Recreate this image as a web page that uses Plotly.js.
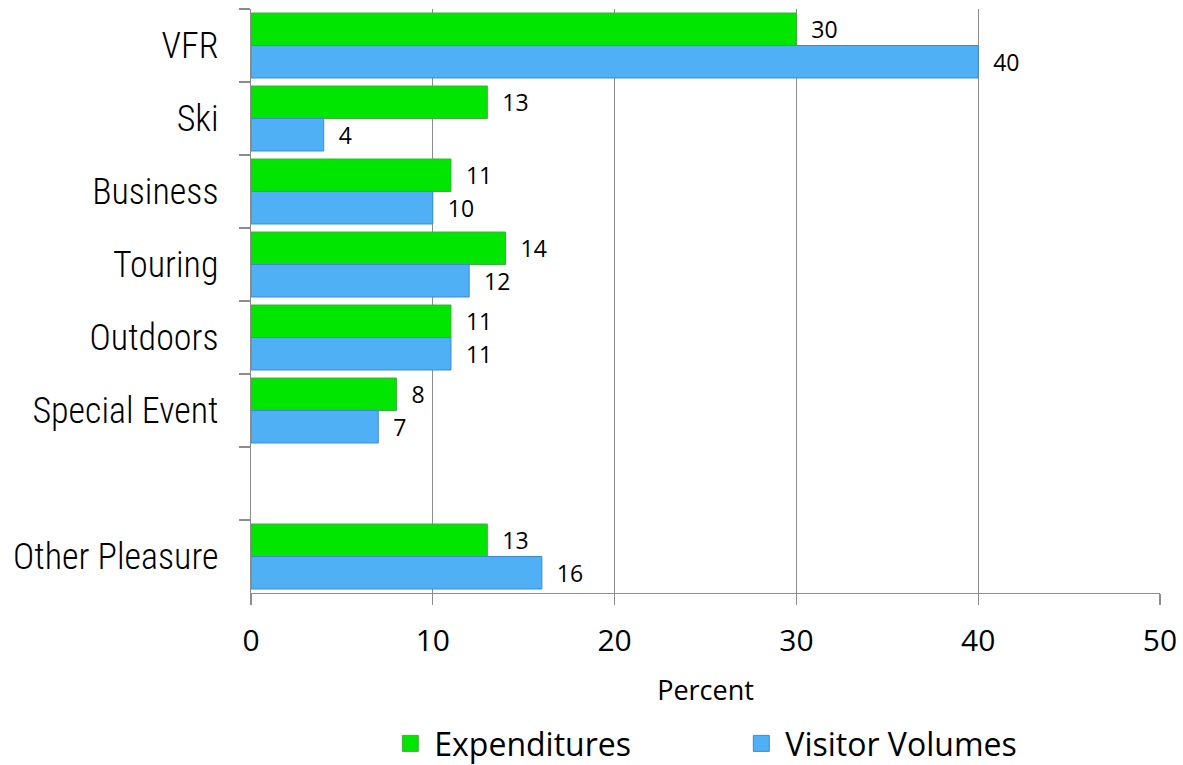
<!DOCTYPE html>
<html>
<head>
<meta charset="utf-8">
<script src="https://cdn.plot.ly/plotly-3.0.1.min.js"></script>
<style>html,body{margin:0;padding:0;background:#fff;}#chart{width:1183px;height:765px;}</style>
</head>
<body>
<div id="chart"></div>
<script>
const categories = ["VFR", "Ski", "Business", "Touring", "Outdoors", "Special Event", " ", "Other Pleasure"];
const barCategories = ["VFR", "Ski", "Business", "Touring", "Outdoors", "Special Event", "Other Pleasure"];
const expenditures = [30, 13, 11, 14, 11, 8, 13];
const visitorVolumes = [40, 4, 10, 12, 11, 7, 16];
const seriesNames = ["Expenditures", "Visitor Volumes"];
const xTicks = [0, 10, 20, 30, 40, 50];

const green = "#00e600";
const blue = "#50b0f5";
const nb = "\u00a0\u00a0";

const labelFont = {family: "Open Sans, Lato, sans-serif", size: 23, color: "#000"};

const traces = [
  {
    type: "bar", orientation: "h", name: seriesNames[0],
    x: expenditures, y: barCategories,
    marker: {color: green, line: {color: "#3fae3f", width: 1}},
    text: expenditures.map(v => nb + v), textposition: "outside",
    textfont: labelFont, cliponaxis: false, showlegend: false, hoverinfo: "x+y"
  },
  {
    type: "bar", orientation: "h", name: seriesNames[1],
    x: visitorVolumes, y: barCategories,
    marker: {color: blue, line: {color: "#3a8ccc", width: 1}},
    text: visitorVolumes.map(v => nb + v), textposition: "outside",
    textfont: labelFont, cliponaxis: false, showlegend: false, hoverinfo: "x+y"
  },
  {
    type: "scatter", mode: "markers", name: seriesNames[0],
    x: [null], y: [null],
    marker: {symbol: "square", size: 22, color: green, line: {color: "#3fae3f", width: 1}},
    showlegend: true, hoverinfo: "skip"
  },
  {
    type: "scatter", mode: "markers", name: seriesNames[1],
    x: [null], y: [null],
    marker: {symbol: "square", size: 22, color: blue, line: {color: "#3a8ccc", width: 1}},
    showlegend: true, hoverinfo: "skip"
  }
];

const layout = {
  width: 1183, height: 765,
  margin: {l: 251, r: 23, t: 9, b: 172},
  paper_bgcolor: "#fff", plot_bgcolor: "#fff",
  barmode: "group", bargap: 0.11, bargroupgap: 0,
  showlegend: true,
  xaxis: {
    range: [0, 50], tickvals: xTicks, ticktext: xTicks.map(String),
    showgrid: true, gridcolor: "#8c8c8c", gridwidth: 1.3,
    showline: true, linecolor: "#8c8c8c", linewidth: 1.3,
    ticks: "outside", ticklen: 11, tickcolor: "#8c8c8c", tickwidth: 1.3,
    ticklabelstandoff: 10,
    zeroline: false,
    tickfont: {family: "Open Sans, Lato, sans-serif", size: 30, color: "#000"},
    title: {text: "Percent", font: {family: "Open Sans, Lato, sans-serif", size: 27, color: "#000"}, standoff: 21}
  },
  yaxis: {
    type: "category", categoryorder: "array", categoryarray: categories,
    autorange: "reversed",
    tickson: "boundaries",
    showgrid: false, zeroline: false,
    showline: true, linecolor: "#8c8c8c", linewidth: 1.3,
    ticks: "outside", ticklen: 11, tickcolor: "#8c8c8c", tickwidth: 1.3,
    ticklabelstandoff: 24,
    tickfont: {family: "Roboto Condensed, Liberation Sans Narrow, sans-serif", size: 36, weight: 300, color: "#000"}
  },
  legend: {
    orientation: "h", x: 0.535, xanchor: "center",
    yref: "container", y: 0.028, yanchor: "middle",
    font: {family: "Open Sans, Lato, sans-serif", size: 32, color: "#000"},
    entrywidth: 298, itemwidth: 38, bgcolor: "rgba(0,0,0,0)"
  }
};

Plotly.newPlot("chart", traces, layout, {displayModeBar: false, staticPlot: true});
</script>
</body>
</html>
